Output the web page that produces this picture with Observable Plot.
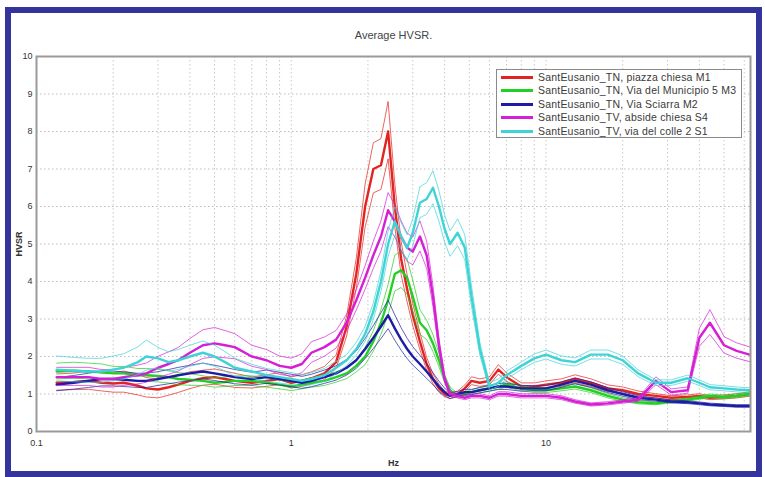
<!DOCTYPE html>
<html>
<head>
<meta charset="utf-8">
<script src="https://cdn.jsdelivr.net/npm/d3@7"></script>
<script src="https://cdn.jsdelivr.net/npm/@observablehq/plot@0.6"></script>
<style>
html, body { margin: 0; padding: 0; background: #ffffff; }
body { width: 765px; height: 477px; position: relative; overflow: hidden; font-family: "Liberation Sans", Arial, sans-serif; }
#frame { position: absolute; left: 5px; top: 7px; width: 745px; height: 458px; border: 6px solid #34349c; background: #fff; }
#chart { position: absolute; left: 0; top: 0; }
#legend { position: absolute; left: 496px; top: 69px; width: 246px; height: 69px; border: 1px solid #8a8a8a; background: #fff; font-size: 10.5px; letter-spacing: 0.2px; color: #3a3a3a; box-sizing: border-box; }
#legend .row { position: absolute; left: 0; height: 13px; line-height: 13px; white-space: nowrap; }
#legend svg { position: absolute; left: 4px; top: 0; }
#legend span { position: absolute; left: 41px; top: 0; }
</style>
</head>
<body>
<div id="frame"></div>
<div id="chart"></div>
<div id="legend"></div>
<script>
// ---- data ----
const freq = [0.12,0.14,0.16,0.18,0.2,0.22,0.25,0.27,
  0.3,0.33,0.36,0.4,0.45,0.5,0.55,0.6,
  0.7,0.8,0.9,1.0,1.1,1.2,1.35,1.5,
  1.65,1.8,1.95,2.1,2.25,2.4,2.55,2.7,
  2.85,3.0,3.2,3.4,3.6,3.8,4.0,4.2,
  4.5,4.8,5.1,5.5,6.0,6.5,7.0,8.0,
  9,10,11.5,13,15,17.5,20,23,
  27,31,36,40,44,50,56,63];

const siteNames = [
  "SantEusanio_TN, piazza chiesa M1",
  "SantEusanio_TN, Via del Municipio 5 M3",
  "SantEusanio_TN, Via Sciarra M2",
  "SantEusanio_TV, abside chiesa S4",
  "SantEusanio_TV, via del colle 2 S1"
];
const siteColors = ["#e3231f", "#22cf22", "#1c1ca6", "#d41fd4", "#3fd3d6"];

const m1Mean = [1.30,1.32,1.35,1.30,1.28,1.30,1.22,1.15,
  1.12,1.18,1.25,1.35,1.42,1.45,1.40,1.35,
  1.30,1.35,1.40,1.30,1.35,1.42,1.55,1.85,
  2.80,4.20,6.00,7.00,7.10,8.00,6.00,4.60,
  3.80,3.10,2.40,1.80,1.40,1.15,1.00,0.95,
  1.00,1.15,1.35,1.30,1.35,1.65,1.45,1.20,
  1.20,1.25,1.30,1.40,1.30,1.15,1.10,1.00,
  0.95,0.90,0.92,0.95,0.90,0.92,0.95,1.00];
const m1Sd = [1.18,1.18,1.20,1.20,1.22,1.24,1.25,1.25,
  1.25,1.22,1.20,1.18,1.15,1.15,1.15,1.15,
  1.12,1.12,1.12,1.12,1.12,1.12,1.12,1.10,
  1.10,1.10,1.10,1.10,1.10,1.10,1.10,1.10,
  1.10,1.10,1.10,1.10,1.10,1.10,1.08,1.08,
  1.08,1.08,1.08,1.08,1.08,1.08,1.08,1.08,
  1.08,1.08,1.08,1.08,1.08,1.08,1.08,1.08,
  1.06,1.06,1.06,1.06,1.06,1.06,1.06,1.06];

const m3Mean = [1.60,1.62,1.60,1.58,1.55,1.55,1.50,1.50,
  1.48,1.45,1.40,1.38,1.35,1.30,1.32,1.35,
  1.35,1.30,1.25,1.20,1.25,1.30,1.35,1.45,
  1.55,1.75,2.00,2.40,2.90,3.50,4.20,4.30,
  4.10,3.60,2.90,2.70,2.35,1.90,1.40,1.10,
  0.95,1.00,1.05,1.10,1.15,1.20,1.25,1.15,
  1.10,1.10,1.15,1.20,1.10,0.95,0.85,0.78,
  0.75,0.80,0.85,0.90,0.95,0.92,0.95,1.00];
const m3Sd = [1.14,1.14,1.14,1.14,1.12,1.12,1.12,1.12,
  1.12,1.12,1.12,1.12,1.10,1.10,1.10,1.10,
  1.10,1.10,1.10,1.10,1.10,1.10,1.10,1.10,
  1.10,1.10,1.12,1.12,1.12,1.12,1.12,1.12,
  1.12,1.12,1.12,1.10,1.10,1.10,1.08,1.08,
  1.06,1.06,1.06,1.06,1.06,1.06,1.06,1.06,
  1.06,1.06,1.06,1.06,1.06,1.06,1.06,1.06,
  1.05,1.05,1.05,1.05,1.05,1.05,1.05,1.05];

const m2Mean = [1.25,1.30,1.35,1.40,1.40,1.38,1.35,1.35,
  1.40,1.45,1.50,1.55,1.60,1.55,1.50,1.45,
  1.40,1.45,1.40,1.35,1.30,1.35,1.45,1.55,
  1.70,1.90,2.20,2.50,2.80,3.10,2.75,2.45,
  2.20,2.00,1.80,1.60,1.40,1.20,1.05,0.95,
  1.00,1.05,1.05,1.10,1.15,1.20,1.20,1.15,
  1.15,1.15,1.25,1.35,1.25,1.10,1.00,0.90,
  0.85,0.80,0.78,0.75,0.72,0.70,0.68,0.68];
const m2Sd = [1.15,1.15,1.15,1.15,1.15,1.15,1.15,1.15,
  1.14,1.14,1.14,1.14,1.14,1.14,1.14,1.14,
  1.13,1.13,1.13,1.13,1.13,1.13,1.13,1.13,
  1.13,1.13,1.13,1.13,1.13,1.13,1.13,1.13,
  1.13,1.13,1.13,1.13,1.12,1.12,1.10,1.08,
  1.07,1.07,1.07,1.07,1.07,1.07,1.07,1.07,
  1.06,1.06,1.06,1.06,1.06,1.06,1.06,1.06,
  1.05,1.05,1.05,1.05,1.05,1.05,1.05,1.05];

const s4Mean = [1.45,1.45,1.45,1.40,1.40,1.45,1.50,1.55,
  1.70,1.80,1.90,2.10,2.30,2.35,2.30,2.25,
  2.00,1.90,1.75,1.70,1.80,2.10,2.25,2.45,
  2.90,3.50,4.10,4.70,5.20,5.90,5.60,5.20,
  4.90,4.80,5.20,4.70,3.60,2.30,1.40,1.00,
  0.95,0.90,0.95,0.95,0.90,1.00,1.00,0.95,
  0.95,0.95,0.90,0.80,0.72,0.75,0.80,0.85,
  1.35,1.05,1.10,2.50,2.90,2.30,2.15,2.05];
const s4Sd = [1.18,1.18,1.18,1.18,1.18,1.18,1.18,1.18,
  1.18,1.18,1.18,1.18,1.18,1.18,1.17,1.16,
  1.15,1.15,1.15,1.15,1.15,1.14,1.12,1.10,
  1.08,1.08,1.08,1.08,1.08,1.08,1.08,1.08,
  1.08,1.08,1.08,1.08,1.08,1.08,1.07,1.06,
  1.06,1.06,1.06,1.06,1.06,1.06,1.06,1.06,
  1.06,1.06,1.06,1.06,1.06,1.06,1.06,1.06,
  1.08,1.08,1.08,1.10,1.12,1.10,1.10,1.10];

const s1Mean = [1.65,1.62,1.60,1.60,1.65,1.70,1.85,2.00,
  1.95,1.85,1.90,2.00,2.10,2.00,1.85,1.70,
  1.60,1.50,1.45,1.40,1.35,1.40,1.50,1.70,
  1.90,2.20,2.60,3.20,4.00,5.00,5.60,5.20,
  4.90,5.30,6.10,6.20,6.50,6.00,5.40,5.00,
  5.30,4.90,3.60,2.20,1.20,1.30,1.50,1.75,
  1.95,2.05,1.90,1.85,2.05,2.05,1.90,1.55,
  1.30,1.30,1.42,1.30,1.18,1.15,1.12,1.10];
const s1Sd = [1.22,1.22,1.22,1.22,1.22,1.22,1.22,1.22,
  1.15,1.15,1.15,1.15,1.15,1.15,1.15,1.15,
  1.12,1.12,1.12,1.12,1.12,1.12,1.12,1.10,
  1.08,1.08,1.08,1.07,1.07,1.07,1.07,1.07,
  1.07,1.07,1.07,1.07,1.07,1.07,1.07,1.07,
  1.07,1.07,1.08,1.08,1.08,1.08,1.07,1.06,
  1.06,1.06,1.06,1.06,1.06,1.06,1.06,1.06,
  1.06,1.06,1.06,1.06,1.06,1.06,1.06,1.06];

const yTicks = [0,1,2,3,4,5,6,7,8,9,10];
const yGrid = [1,2,3,4,5,6,7,8,9];
const xTicks = [0.1, 1, 10];
const xGrid = [0.2,0.3,0.4,0.5,0.6,0.7,0.8,0.9,1,2,3,4,5,6,7,8,9,10,20,30,40,50,60];

const titleText = "Average HVSR.";

// ---- build ----
const means = [m1Mean, m3Mean, m2Mean, s4Mean, s1Mean];
const sds = [m1Sd, m3Sd, m2Sd, s4Sd, s1Sd];

const lineMarks = [];
siteNames.forEach((name, k) => {
  const data = freq.map((f, i) => ({
    f, m: means[k][i], hi: means[k][i] * sds[k][i], lo: means[k][i] / sds[k][i]
  }));
  const c = siteColors[k];
  lineMarks.push(Plot.line(data, {x: "f", y: "hi", stroke: c, strokeWidth: 1, strokeOpacity: 0.7, clip: true}));
  lineMarks.push(Plot.line(data, {x: "f", y: "lo", stroke: c, strokeWidth: 1, strokeOpacity: 0.7, clip: true}));
  lineMarks.push(Plot.line(data, {x: "f", y: "m", stroke: c, strokeWidth: 2.4, clip: true}));
});

const chart = Plot.plot({
  width: 765,
  height: 477,
  marginLeft: 36,
  marginRight: 15,
  marginTop: 56,
  marginBottom: 46,
  style: {background: "transparent", fontFamily: "'Liberation Sans', Arial, sans-serif", fontSize: "9px", color: "#333"},
  x: {type: "log", domain: [0.1, 63.5]},
  y: {domain: [0, 10]},
  marks: [
    Plot.ruleY(yGrid, {stroke: "#bdbdbd", strokeDasharray: "1.5,2.5"}),
    Plot.ruleX(xGrid, {stroke: "#c8c8c8", strokeDasharray: "1.5,2.5"}),
    ...lineMarks,
    Plot.frame({stroke: "#9a9a9a", strokeWidth: 2}),
    Plot.axisX({ticks: xTicks, tickSize: 0, tickPadding: 8, tickFormat: d => String(d),
      label: "Hz", labelAnchor: "center", labelArrow: "none", labelOffset: 34}),
    Plot.axisY({ticks: yTicks, tickSize: 0, tickPadding: 4, tickFormat: d => String(d),
      label: "HVSR", labelAnchor: "center", labelArrow: "none", labelOffset: 21}),
    Plot.text([titleText], {frameAnchor: "top", dy: -25, fontSize: 11, fill: "#444"})
  ]
});
document.getElementById("chart").appendChild(chart);

// bold axis labels
chart.querySelectorAll("[aria-label='x-axis label'] text, [aria-label='y-axis label'] text").forEach(t => t.setAttribute("font-weight", "bold"));

// legend
const leg = document.getElementById("legend");
siteNames.forEach((name, k) => {
  const row = document.createElement("div");
  row.className = "row";
  row.style.top = (1 + k * 13.4) + "px";
  row.style.width = "244px";
  row.innerHTML = `<svg width="34" height="13"><line x1="0" x2="32" y1="6.5" y2="6.5" stroke="${siteColors[k]}" stroke-width="3"/></svg><span>${name}</span>`;
  leg.appendChild(row);
});
</script>
</body>
</html>
